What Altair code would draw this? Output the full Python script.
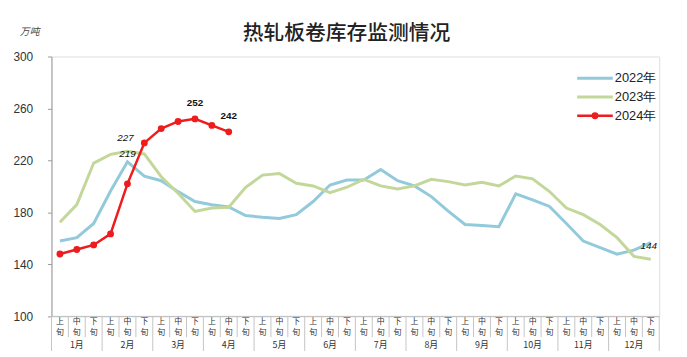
import altair as alt
import pandas as pd

# ---------------- data ----------------
months = ["1月", "2月", "3月", "4月", "5月", "6月", "7月", "8月", "9月", "10月", "11月", "12月"]
decades = ["上旬", "中旬", "下旬"]
series = ["2022年", "2023年", "2024年"]

s2022 = [158, 160.6, 171.5, 196.5, 219, 208, 204.4, 196, 188.4, 185.9, 184.2, 177.6,
         176.3, 175.3, 178.3, 188.4, 201.1, 204.9, 204.9, 213, 204.4, 200.4, 192.2, 181,
         170.7, 170, 169, 194.3, 189.7, 184.6, 171.5, 158, 153, 147.9, 151, 156.8]
s2023 = [172.5, 186, 218, 224.7, 227, 225, 207.5, 194.8, 180.8, 183.4, 184, 199.4,
         208.7, 210, 202.4, 200.4, 195.3, 199.4, 205.5, 200.4, 198.1, 200.4, 205.5, 203.7,
         201.1, 203.2, 200.4, 208, 205.9, 196.1, 183.4, 178.3, 170.7, 160.6, 146.2, 144]
s2024 = [148, 151.5, 155, 163.5, 202, 233.5, 244.5, 250, 252, 247, 242]

y_ticks = [100, 140, 180, 220, 260, 300]
colors = ["#93cadb", "#c4d79b", "#ee1c1c"]

# labelled points: (series, index)
label_points = [("2022年", 4), ("2023年", 4), ("2024年", 8), ("2024年", 10), ("2023年", 35)]

# ---------------- tables ----------------
values = {"2022年": s2022, "2023年": s2023, "2024年": s2024}
rows = []
for name in series:
    for i, v in enumerate(values[name]):
        rows.append({"series": name, "pos": i + 0.5, "value": v})
df = pd.DataFrame(rows)

lab = pd.DataFrame([{"series": s, "pos": i + 0.5, "value": values[s][i],
                     "text": f"{values[s][i]:.0f}"} for s, i in label_points])

xl_rows = []
for m, month in enumerate(months):
    for d, dec in enumerate(decades):
        xl_rows.append({"pos": m * 3 + d + 0.5, "c1": dec[0], "c2": dec[1]})
xl = pd.DataFrame(xl_rows)
ml = pd.DataFrame([{"pos": m * 3 + 1.5, "text": month} for m, month in enumerate(months)])
sep = pd.DataFrame([{"b": b, "major": b % 3 == 0} for b in range(len(months) * 3 + 1)])
one = pd.DataFrame([{"k": 0}])

W, H = 615, 263
xscale = alt.Scale(domain=[0, len(months) * 3], nice=False, zero=False)
yscale = alt.Scale(domain=[y_ticks[0], y_ticks[-1]], nice=False, zero=False)
cscale = alt.Scale(domain=series, range=colors)

yaxis = alt.Axis(values=y_ticks, title=None, grid=False, domainColor="#9a9a9a",
                 tickColor="#9a9a9a", tickSize=4, labelPadding=15,
                 labelFont="Liberation Sans", labelFontSize=12, labelColor="#333333")

X = alt.X("pos:Q", scale=xscale, axis=None)
Y0 = alt.Y("value:Q", scale=yscale, axis=yaxis)

lines_bg = alt.Chart(df).transform_filter(
    alt.FieldOneOfPredicate(field="series", oneOf=series[:2])
).mark_line(strokeWidth=3).encode(
    x=X, y=Y0,
    color=alt.Color("series:N", scale=cscale, legend=None),
    detail="series:N",
)

line24 = alt.Chart(df).transform_filter(
    alt.datum.series == series[2]
).mark_line(strokeWidth=2.5, color=colors[2]).encode(x=X, y=Y0)

pts24 = alt.Chart(df).transform_filter(
    alt.datum.series == series[2]
).mark_circle(size=48, opacity=1, color=colors[2]).encode(x=X, y=Y0)

def label_layer(s, dy, dx=0, style="italic", weight="normal"):
    return alt.Chart(lab).transform_filter(alt.datum.series == s).mark_text(
        dy=dy, dx=dx, fontSize=10, font="Liberation Sans", fontStyle=style,
        fontWeight=weight, color="#111111"
    ).encode(x=X, y=Y0, text="text:N")

labels = [
    label_layer("2022年", -8),
    label_layer("2023年", -13, dx=-2),
    label_layer("2024年", -16, style="normal", weight="bold"),
]

# bottom axis
base_line = alt.Chart(one).mark_rule(color="#bdbdbd").encode(
    x=alt.value(0), x2=alt.value(W), y=alt.value(H))
minor = alt.Chart(sep).transform_filter(~alt.datum.major).mark_rule(color="#c4c4c4").encode(
    x=alt.X("b:Q", scale=xscale, axis=None), y=alt.value(H), y2=alt.value(H + 21))
major = alt.Chart(sep).transform_filter(alt.datum.major).mark_rule(color="#c4c4c4").encode(
    x=alt.X("b:Q", scale=xscale, axis=None), y=alt.value(H), y2=alt.value(H + 35))
dec1 = alt.Chart(xl).mark_text(
    baseline="middle", fontSize=8, font="Noto Sans CJK SC", color="#333333"
).encode(x=X, y=alt.value(H + 6), text="c1:N")
dec2 = alt.Chart(xl).mark_text(
    baseline="middle", fontSize=8, font="Noto Sans CJK SC", color="#333333"
).encode(x=X, y=alt.value(H + 17), text="c2:N")
mon_text = alt.Chart(ml).mark_text(
    baseline="middle", fontSize=9, font="Noto Sans CJK SC", color="#333333"
).encode(x=X, y=alt.value(H + 29), text="text:N")

# title and unit
title = alt.Chart(one).mark_text(
    fontSize=21, font="Noto Sans CJK SC", fontWeight=500, baseline="middle",
    color="#222222"
).encode(x=alt.value(W / 2 - 9), y=alt.value(-23), text=alt.value("热轧板卷库存监测情况"))
unit = alt.Chart(one).mark_text(
    fontSize=10, font="Noto Sans CJK SC", fontStyle="italic",
    baseline="middle", color="#444444"
).encode(x=alt.value(-22), y=alt.value(-25), text=alt.value("万吨"))

# manual legend
legend_layers = []
for k, s in enumerate(series):
    yy = 22 + k * 19
    legend_layers.append(alt.Chart(one).mark_rule(
        color=colors[k], strokeWidth=3 if k < 2 else 2.5).encode(
        x=alt.value(532), x2=alt.value(568), y=alt.value(yy)))
    legend_layers.append(alt.Chart(one).mark_text(
        align="left", baseline="middle", fontSize=13, font="Liberation Sans",
        color="#222222").encode(
        x=alt.value(570), y=alt.value(yy), text=alt.value(s)))
legend_layers.append(alt.Chart(one).mark_circle(size=48, opacity=1, color=colors[2]).encode(
    x=alt.value(550), y=alt.value(22 + 2 * 19)))

chart = alt.layer(
    base_line, minor, major, dec1, dec2, mon_text,
    lines_bg, line24, pts24, *labels, title, unit, *legend_layers
).properties(
    width=W, height=H,
    autosize=alt.AutoSizeParams(type="none"),
    padding={"left": 44, "top": 47, "right": 20, "bottom": 39},
).configure_view(stroke=None).configure(background="white")

chart.save("out.html", embed_options={"renderer": "svg", "actions": False})
